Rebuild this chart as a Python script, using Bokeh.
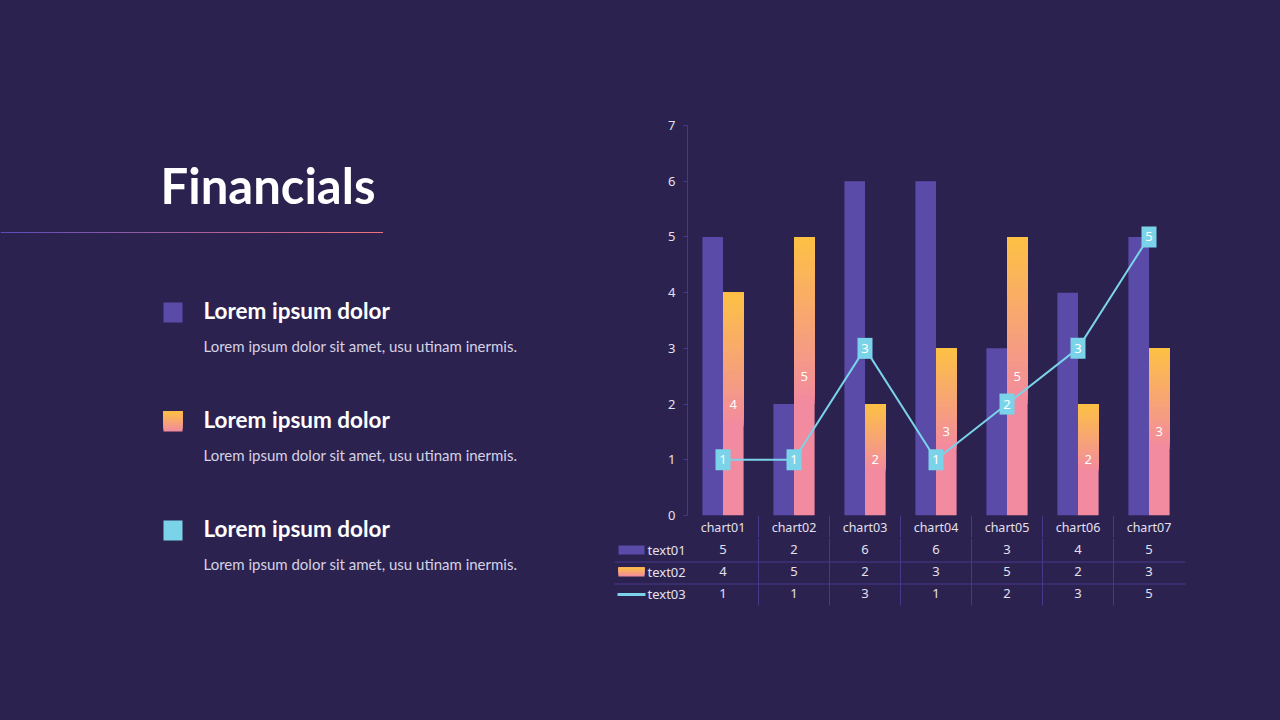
from bokeh.plotting import figure
from bokeh.layouts import row, column
from bokeh.models import Range1d, ColumnDataSource, FixedTicker
from bokeh.core.properties import value
from bokeh.embed import file_html
from bokeh.resources import INLINE

# ---- data -------------------------------------------------------------
categories = ["chart01", "chart02", "chart03", "chart04", "chart05", "chart06", "chart07"]
text01 = [5, 2, 6, 6, 3, 4, 5]
text02 = [4, 5, 2, 3, 5, 2, 3]
text03 = [1, 1, 3, 1, 2, 3, 5]
series_names = ["text01", "text02", "text03"]
y_ticks = [0, 1, 2, 3, 4, 5, 6, 7]

title_text = "Financials"
heading_text = "Lorem ipsum dolor"
body_text = "Lorem ipsum dolor sit amet, usu  utinam inermis."

# ---- palette ----------------------------------------------------------
BG = "#2C2250"
PURPLE = "#5A4BA8"
YELLOW = "#FDC144"
PINK = "#F28AA0"
CYAN = "#7AD3E8"
RULE = "#47398A"
TEXT = "#E4E0EE"
SOFT = "#D6D2E4"
UI_FONT = "Noto Sans"
HEAD_FONT = "Lato"
PAGE_STYLE = {"background-color": BG}


def mix(c1, c2, t):
    a = [int(c1[i:i + 2], 16) for i in (1, 3, 5)]
    b = [int(c2[i:i + 2], 16) for i in (1, 3, 5)]
    return "#%02x%02x%02x" % tuple(round(x + (y - x) * t) for x, y in zip(a, b))


def blank(width, height, x0, x1, y_top, y_bottom):
    """An axis-less figure whose frame fills it, in page-pixel coordinates."""
    f = figure(width=width, height=height,
               x_range=Range1d(x0, x1), y_range=Range1d(y_bottom, y_top),
               x_axis_location=None, y_axis_location=None,
               output_backend="svg", toolbar_location=None,
               min_border=0, background_fill_color=BG, border_fill_color=BG,
               outline_line_color=None, frame_align=False, styles=PAGE_STYLE)
    f.grid.visible = False
    return f


def fade_quads(f, left, right, top, bottom, c_top, c_bottom, n=12, **kw):
    """Vertical colour fade built from overlapping strips (y grows downward)."""
    step = (bottom - top) / n
    ls, rs, ts, bs, cs = [], [], [], [], []
    for k in range(n - 1, -1, -1):
        ls.append(left)
        rs.append(right)
        ts.append(top)
        bs.append(top + step * (k + 1))
        cs.append(mix(c_top, c_bottom, (k + 0.5) / n))
    f.quad(left=ls, right=rs, top=ts, bottom=bs, fill_color=cs, line_color=None, **kw)


# category slots on a numeric axis: slot i is centred on i + 0.5
n_cat = len(categories)
slot = [i + 0.5 for i in range(n_cat)]
bounds = list(range(1, n_cat))

# ---- page geometry ----------------------------------------------------
LEFT_W = 600
CHART_H = 538
FRAME_L, FRAME_R, FRAME_T, FRAME_B = 687, 1184, 125, 516
SLOT_PX = (FRAME_R - FRAME_L) / n_cat
RULE_DROP = CHART_H - FRAME_B          # column rules run down from the chart

# ---- left text panel --------------------------------------------------
left = blank(LEFT_W, 720, 0, LEFT_W, 0, 720)

left.text(x=[160], y=[184], text=[title_text], text_font=value(HEAD_FONT),
          text_font_size="49px", text_font_style="bold", text_color="white",
          text_baseline="alphabetic")

N_RULE = 64
rule_l = [382 * k / N_RULE for k in range(N_RULE)]
rule_r = [382 * (k + 1) / N_RULE + 0.5 for k in range(N_RULE)]
left.quad(left=rule_l, right=rule_r, top=231.5, bottom=232.5,
          fill_color=[mix("#5B4DBB", "#F2727E", (k + 0.5) / N_RULE) for k in range(N_RULE)],
          line_color=None)

swatch_top = [302, 411, 520]
left.quad(left=163, right=182, top=swatch_top[0], bottom=swatch_top[0] + 20,
          fill_color=PURPLE, line_color=None)
fade_quads(left, 163, 182, swatch_top[1], swatch_top[1] + 20, YELLOW, PINK, n=12)
left.quad(left=163, right=182, top=swatch_top[2], bottom=swatch_top[2] + 20,
          fill_color=CYAN, line_color=None)

left.text(x=[203] * 3, y=[t + 8 for t in swatch_top], text=[heading_text] * 3,
          text_font=value(HEAD_FONT), text_font_size="22.5px", text_font_style="bold",
          text_color="white", text_baseline="alphabetic")
left.text(x=[203] * 3, y=[t + 43 for t in swatch_top], text=[body_text] * 3,
          text_font=value(HEAD_FONT), text_font_size="15px",
          text_color=SOFT, text_baseline="alphabetic")

# ---- chart ------------------------------------------------------------
p = figure(width=1280 - LEFT_W, height=CHART_H,
           x_range=Range1d(0, n_cat), y_range=Range1d(0, 7),
           output_backend="svg", toolbar_location=None,
           min_border_left=FRAME_L - LEFT_W, min_border_right=1280 - FRAME_R,
           min_border_top=FRAME_T, min_border_bottom=RULE_DROP,
           background_fill_color=BG, border_fill_color=BG,
           outline_line_color=None, frame_align=False, styles=PAGE_STYLE)
p.grid.visible = False

ya = p.yaxis[0]
ya.ticker = FixedTicker(ticks=y_ticks)
ya.axis_line_color = RULE
ya.major_tick_line_color = RULE
ya.major_tick_in = 0
ya.major_tick_out = 4
ya.minor_tick_line_color = None
ya.major_label_text_color = TEXT
ya.major_label_text_font = UI_FONT
ya.major_label_text_font_size = "13px"
ya.major_label_standoff = 8

# category axis: labels at slot centres, minor ticks start the table's column rules
xa = p.xaxis[0]
xa.ticker = FixedTicker(ticks=slot, minor_ticks=bounds)
xa.major_label_overrides = {s: c for s, c in zip(slot, categories)}
xa.axis_line_color = None
xa.major_tick_line_color = None
xa.major_tick_in = 0
xa.major_tick_out = 0
xa.minor_tick_line_color = RULE
xa.minor_tick_in = 0
xa.minor_tick_out = RULE_DROP
xa.major_label_text_color = TEXT
xa.major_label_text_font = UI_FONT
xa.major_label_text_font_size = "12.5px"
xa.major_label_standoff = 3 - RULE_DROP

BAR_W = 0.29
x_left = [s - BAR_W / 2 for s in slot]
x_right = [s + BAR_W / 2 for s in slot]

p.vbar(x=x_left, top=text01, width=BAR_W, fill_color=PURPLE, line_color=None)

src2 = ColumnDataSource(dict(x=x_right, v=text02, half=[v / 2 for v in text02],
                             lbl=[str(v) for v in text02]))
p.vbar(x="x", top="v", width=BAR_W, source=src2, fill_color=PINK, line_color=None)

# yellow -> pink fade over the upper part of each text02 bar
N_FADE, FADE = 36, 0.6
g_x, g_bot, g_top, g_col = [], [], [], []
for xr, v in zip(x_right, text02):
    for k in range(N_FADE - 1, -1, -1):
        g_x.append(xr)
        g_bot.append(v * (1 - FADE * (k + 1) / N_FADE))
        g_top.append(v)
        g_col.append(mix(YELLOW, PINK, (k + 0.5) / N_FADE))
p.vbar(x=g_x, bottom=g_bot, top=g_top, width=BAR_W, fill_color=g_col, line_color=None)

p.text(x="x", y="half", text="lbl", source=src2,
       text_align="center", text_baseline="middle", text_color="white",
       text_font=value(UI_FONT), text_font_size="13px")

src3 = ColumnDataSource(dict(x=slot, v=text03, lbl=[str(v) for v in text03]))
p.line(x="x", y="v", source=src3, line_color=CYAN, line_width=2)
p.rect(x="x", y="v", width=15, height=21, width_units="screen", height_units="screen",
       source=src3, fill_color=CYAN, line_color=None)
p.text(x="x", y="v", text="lbl", source=src3, text_align="center",
       text_baseline="middle", text_color="white", text_font=value(UI_FONT),
       text_font_size="13px")

# ---- data table under the chart ---------------------------------------
tbl = blank(1280 - LEFT_W, 720 - CHART_H, LEFT_W, 1280, CHART_H, 720)
tbl.extra_x_ranges = {"slot": Range1d((LEFT_W - FRAME_L) / SLOT_PX,
                                      (1280 - FRAME_L) / SLOT_PX)}

row_y = [549, 571, 593]
tbl.segment(x0=614, x1=1185, y0=[561.5, 583.5], y1=[561.5, 583.5],
            line_color=RULE, line_width=1)
tbl.segment(x0=bounds, x1=bounds, y0=CHART_H, y1=605, x_range_name="slot",
            line_color=RULE, line_width=1)

for name, vals, y in zip(series_names, [text01, text02, text03], row_y):
    tbl.text(x=slot, y=[y] * len(vals), text=[str(v) for v in vals], x_range_name="slot",
             text_align="center", text_baseline="middle", text_color=TEXT,
             text_font=value(UI_FONT), text_font_size="13px")
    tbl.text(x=[647], y=[y], text=[name], text_baseline="middle", text_color=TEXT,
             text_font=value(UI_FONT), text_font_size="13px")

tbl.quad(left=618, right=644, top=545, bottom=554, fill_color=PURPLE, line_color=None)
fade_quads(tbl, 618, 644, 567, 576, YELLOW, PINK, n=6)
tbl.segment(x0=617, x1=645, y0=594, y1=594, line_color=CYAN, line_width=3)

page = row(left, column(p, tbl, spacing=0, styles=PAGE_STYLE), spacing=0, styles=PAGE_STYLE)
html = file_html(page, INLINE, title="Financials")
html = html.replace("<body>", f'<body style="margin:0;background:{BG}">', 1)
open("out.html", "w").write(html)
